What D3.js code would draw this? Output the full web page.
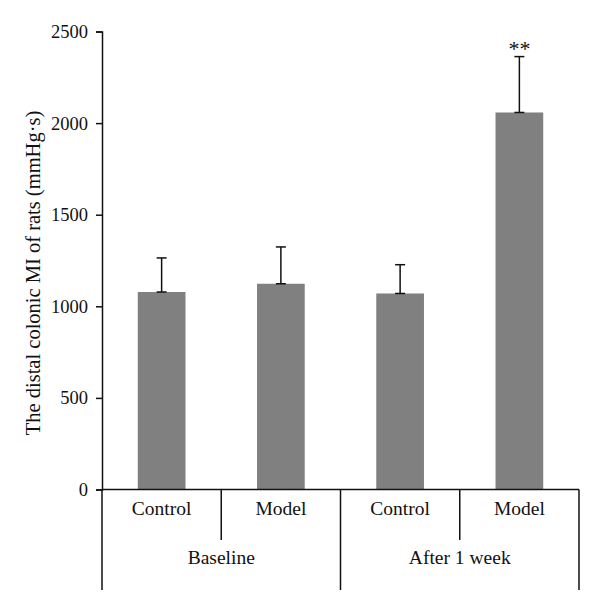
<!DOCTYPE html>
<html>
<head>
<meta charset="utf-8">
<script src="https://cdn.jsdelivr.net/npm/d3@7"></script>
<style>
  body { margin: 0; background: #fff; }
  svg text { font-family: "Liberation Serif", "DejaVu Serif", serif; fill: #111; }
</style>
</head>
<body>
<svg id="chart" width="600" height="611"></svg>
<script>
// data
const groups = ["Baseline", "After 1 week"];
const categories = ["Control", "Model", "Control", "Model"];
const values = [1078, 1123, 1070, 2058];
const errors = [186, 201, 157, 305];
const marks = ["", "", "", "**"];
const yTicks = [0, 500, 1000, 1500, 2000, 2500];

const svg = d3.select("#chart");
const margin = { left: 102, right: 21, top: 31.5, axisY: 489.5 };

const keys = categories.map((c, i) => i);

const x = d3.scaleBand()
  .domain(keys)
  .range([margin.left, 600 - margin.right])
  .paddingInner(0.6)
  .paddingOuter(0.3);

const y = d3.scaleLinear()
  .domain([0, 2500])
  .range([margin.axisY, margin.top]);

// y axis
const yAxis = svg.append("g")
  .attr("transform", `translate(${margin.left},0)`)
  .call(d3.axisLeft(y).tickValues(yTicks).tickSize(6).tickPadding(8).tickFormat(d3.format("d")));
yAxis.select(".domain").attr("stroke", "#111").attr("stroke-width", 1.5);
yAxis.selectAll(".tick line").attr("stroke", "#111").attr("stroke-width", 1.5);
yAxis.selectAll(".tick text")
  .style("font-size", "18.5px")
  .style("font-family", "Liberation Serif, serif");

// y title
svg.append("text")
  .attr("transform", `translate(40,${273}) rotate(-90)`)
  .attr("text-anchor", "middle")
  .style("font-size", "20.5px")
  .text("The distal colonic MI of rats (mmHg·s)");

// bars
svg.selectAll("rect.bar")
  .data(keys)
  .join("rect")
  .attr("class", "bar")
  .attr("x", (d) => x(d))
  .attr("y", (d) => y(values[d]))
  .attr("width", x.bandwidth())
  .attr("height", (d) => y(0) - y(values[d]))
  .attr("fill", "#808080");

// error bars
const eb = svg.append("g").attr("stroke", "#111").attr("stroke-width", 1.5);
keys.forEach((d) => {
  const cx = x(d) + x.bandwidth() / 2;
  eb.append("line")
    .attr("x1", cx).attr("x2", cx)
    .attr("y1", y(values[d])).attr("y2", y(values[d] + errors[d]));
  eb.append("line")
    .attr("x1", cx - 5).attr("x2", cx + 5)
    .attr("y1", y(values[d] + errors[d])).attr("y2", y(values[d] + errors[d]));
  eb.append("line")
    .attr("x1", cx - 5).attr("x2", cx + 5)
    .attr("y1", y(values[d])).attr("y2", y(values[d]));
});

// significance marks
svg.selectAll("text.mark")
  .data(keys)
  .join("text")
  .attr("class", "mark")
  .attr("x", (d) => x(d) + x.bandwidth() / 2)
  .attr("y", (d) => y(values[d] + errors[d]) - 1)
  .attr("text-anchor", "middle")
  .style("font-size", "22px")
  .text((d) => marks[d]);

// category axis
const step = x.step();
const x0 = margin.left;
const axis = svg.append("g").attr("stroke", "#111").attr("stroke-width", 1.5);
axis.append("line")
  .attr("x1", x0).attr("x2", x0 + step * categories.length)
  .attr("y1", y(0)).attr("y2", y(0));
d3.range(categories.length + 1).forEach((i) => {
  const long = i % 2 === 0;
  axis.append("line")
    .attr("x1", x0 + i * step).attr("x2", x0 + i * step)
    .attr("y1", y(0)).attr("y2", long ? 590 : 540);
});

svg.selectAll("text.cat")
  .data(keys)
  .join("text")
  .attr("class", "cat")
  .attr("x", (d) => x(d) + x.bandwidth() / 2)
  .attr("y", 515)
  .attr("text-anchor", "middle")
  .style("font-size", "19.5px")
  .text((d) => categories[d]);

svg.selectAll("text.grp")
  .data(groups)
  .join("text")
  .attr("class", "grp")
  .attr("x", (d, i) => x0 + step * (2 * i + 1))
  .attr("y", 564)
  .attr("text-anchor", "middle")
  .style("font-size", "19.5px")
  .text((d) => d);
</script>
</body>
</html>
